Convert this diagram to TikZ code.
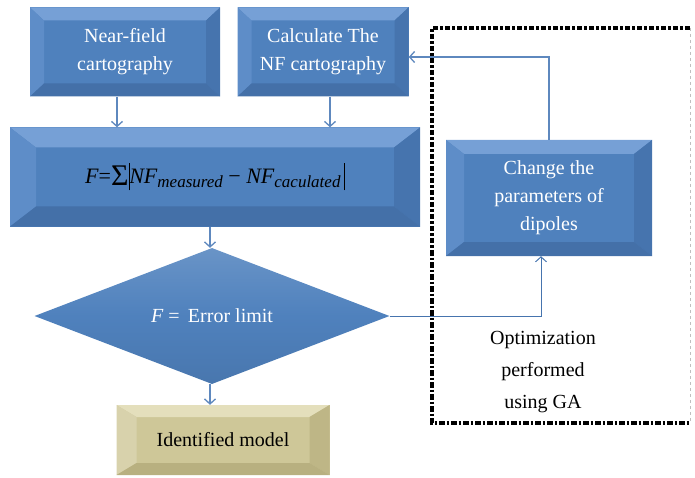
\documentclass[tikz,border=0pt]{standalone}
\usepackage{fontspec}
\setmainfont{Liberation Serif}
\usetikzlibrary{shapes.geometric,arrows.meta}

\definecolor{blockface}{RGB}{79,129,189}
\definecolor{blocktop}{RGB}{118,160,214}
\definecolor{blockleft}{RGB}{94,141,200}
\definecolor{blockright}{RGB}{70,116,174}
\definecolor{blockbottom}{RGB}{68,112,168}
\definecolor{modelface}{RGB}{206,199,152}
\definecolor{modeltop}{RGB}{228,223,188}
\definecolor{modelleft}{RGB}{216,210,172}
\definecolor{modelright}{RGB}{190,182,134}
\definecolor{modelbottom}{RGB}{184,176,128}
\definecolor{flowline}{RGB}{94,136,190}

% four bevel faces of a block, drawn inside the node
\newcommand{\bevels}[4]{%
  \fill[#1] (path picture bounding box.north west) -- (path picture bounding box.north east)
    -- ([shift={(-\bvx,-\bvy)}]path picture bounding box.north east)
    -- ([shift={(\bvx,-\bvy)}]path picture bounding box.north west) -- cycle;
  \fill[#2] (path picture bounding box.north west) -- ([shift={(\bvx,-\bvy)}]path picture bounding box.north west)
    -- ([shift={(\bvx,\bvy)}]path picture bounding box.south west)
    -- (path picture bounding box.south west) -- cycle;
  \fill[#3] (path picture bounding box.north east) -- (path picture bounding box.south east)
    -- ([shift={(-\bvx,\bvy)}]path picture bounding box.south east)
    -- ([shift={(-\bvx,-\bvy)}]path picture bounding box.north east) -- cycle;
  \fill[#4] (path picture bounding box.south west) -- (path picture bounding box.south east)
    -- ([shift={(-\bvx,\bvy)}]path picture bounding box.south east)
    -- ([shift={(\bvx,\bvy)}]path picture bounding box.south west) -- cycle;
}
\newcommand{\sub}[1]{\raisebox{-4pt}{\fontsize{17}{17}\selectfont #1}}
\newcommand{\absbar}{\rule[-7pt]{0.8pt}{27pt}}

\tikzset{
  bevel x/.store in=\bvx, bevel x=14pt,
  bevel y/.store in=\bvy, bevel y=13pt,
  blueblock/.style={rectangle, inner sep=0pt, align=center, fill=blockface, text=white,
    font=\fontsize{20}{28}\selectfont,
    path picture={\bevels{blocktop}{blockleft}{blockright}{blockbottom}}},
  modelblock/.style={rectangle, inner sep=0pt, align=center, fill=modelface, text=black,
    font=\fontsize{20}{28}\selectfont,
    path picture={\bevels{modeltop}{modelleft}{modelright}{modelbottom}}},
  test/.style={diamond, inner sep=0pt, text=white, font=\fontsize{20}{28}\selectfont,
    top color=blockface!85!white, bottom color=blockface!92!black, middle color=blockface},
  flow/.style={draw=flowline, line width=1.3pt, -{Straight Barb[length=5pt,width=11pt]}},
  optbox/.style={line width=4pt, dash pattern=on 5.5pt off 2pt on 2.5pt off 2pt},
}

\begin{document}
\begin{tikzpicture}[x=1pt, y=-1pt]
  \useasboundingbox (0,0) rectangle (695,478);

  \node[blueblock, minimum width=190pt, minimum height=89pt] (nearfield) at (125,52) {Near-field\\cartography};
  \node[blueblock, minimum width=171pt, minimum height=89pt] (calc) at (323,52) {Calculate The\\NF cartography};
  \node[blueblock, bevel x=26pt, bevel y=20pt, minimum width=410pt, minimum height=99pt, text=black,
    font=\fontsize{22}{28}\selectfont] (cost) at (215,177)
    {\textit{F}=\raisebox{-2pt}{\fontsize{30}{30}\selectfont Σ}\absbar\textit{NF\sub{measured}} − \textit{NF\sub{caculated}}\,\absbar};
  \node[test, minimum width=355pt, minimum height=99pt] (check) at (212,316) {\textit{F} =\, Error limit};
  \node[modelblock, bevel x=20pt, bevel y=12pt, minimum width=213pt, minimum height=70pt] (model) at (223,440) {Identified model};
  \node[blueblock, bevel x=18pt, bevel y=14pt, minimum width=206pt, minimum height=116pt] (change) at (549,198) {Change the\\parameters of\\dipoles};

  % optimisation loop frame
  \draw[optbox] (690,28) -- (432,28) -- (432,423) -- (690,423);
  \draw[black!25, dashed, line width=0.6pt] (690,28) -- (690,423);
  \node[align=center, font=\fontsize{20}{32}\selectfont] (ga) at (543,372) {Optimization\\performed\\using GA};

  \draw[flow] ([xshift=-8pt]nearfield.south) -- ([xshift=-8pt]nearfield.south |- cost.north);
  \draw[flow] ([xshift=7pt]calc.south) -- ([xshift=7pt]calc.south |- cost.north);
  \draw[flow] ([xshift=-5pt]cost.south) -- ([xshift=-5pt]cost.south |- check.north);
  \draw[flow] ([xshift=-2pt]check.south) -- ([xshift=-2pt]check.south |- model.north);
  \draw[flow, draw=blockright, line width=1pt] (check.east) -| ([xshift=-8pt]change.south);
  \draw[flow] (change.north) |- ([yshift=-5pt]calc.east);
\end{tikzpicture}
\end{document}
